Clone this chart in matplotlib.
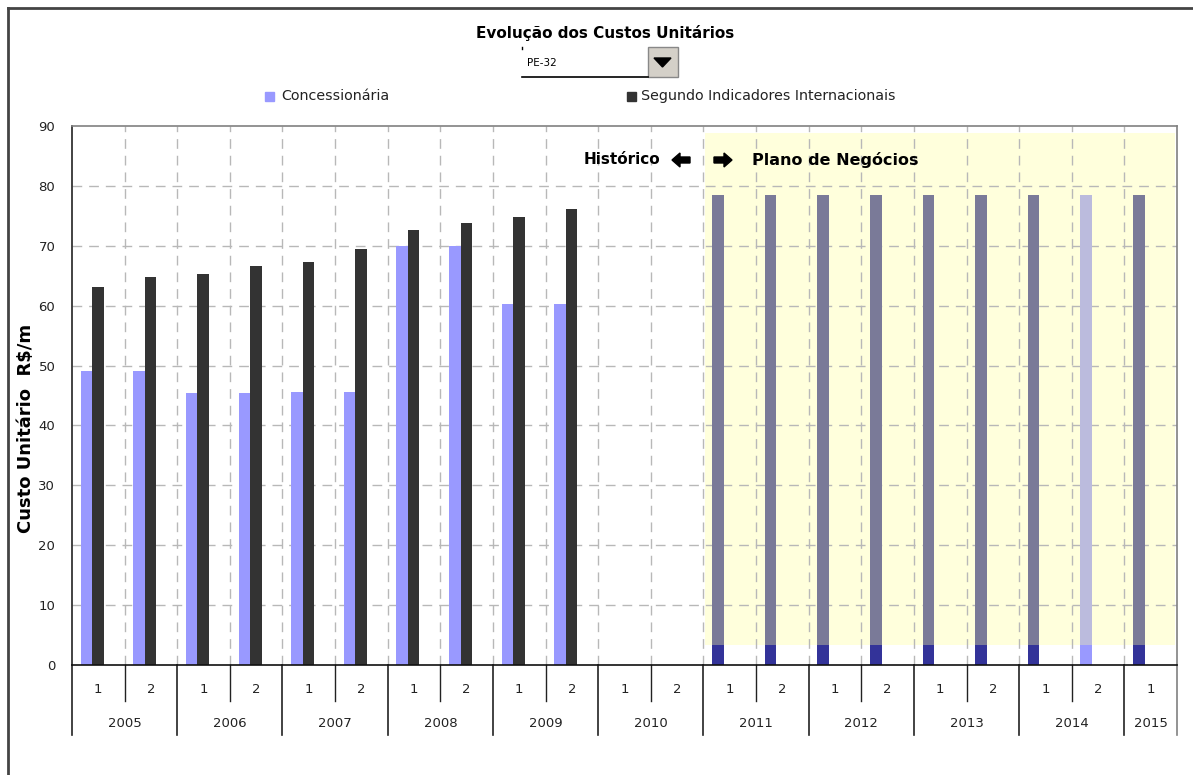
import matplotlib.pyplot as plt
import numpy as np
from matplotlib.patches import Rectangle, Polygon
from matplotlib.lines import Line2D
from matplotlib.transforms import blended_transform_factory

plt.rcParams['font.family'] = ['DejaVu Sans']

W, H = 1193, 775

# semestres 2005-1 .. 2015-1
anos = [2005, 2006, 2007, 2008, 2009, 2010, 2011, 2012, 2013, 2014, 2015]
semestres = [1, 2] * 10 + [1]

concessionaria = [49.1, 49.1, 45.4, 45.4, 45.6, 45.6, 69.9, 69.9, 60.2, 60.2,
                  np.nan, np.nan] + [np.nan] * 9
internacional = [63.1, 64.8, 65.3, 66.6, 67.3, 69.4, 72.6, 73.8, 74.8, 76.1,
                 np.nan, np.nan] + [np.nan] * 9
plano = [np.nan] * 12 + [78.5] * 9

# faixa do plano de negocios
faixa_x = (11.53, 20.46)
faixa_y = (3.3, 88.8)

cor_conc = '#9999FF'
cor_intl = '#333333'


def fx(px):
    return px / W


def fy(py):
    return 1 - py / H


def seta(x0, x1, yc, para_esquerda):
    # seta grossa em pixels da figura
    hl, hw, sw = 8, 7, 3
    if para_esquerda:
        pts = [(x0, yc), (x0 + hl, yc - hw), (x0 + hl, yc - sw), (x1, yc - sw),
               (x1, yc + sw), (x0 + hl, yc + sw), (x0 + hl, yc + hw)]
    else:
        pts = [(x1, yc), (x1 - hl, yc - hw), (x1 - hl, yc - sw), (x0, yc - sw),
               (x0, yc + sw), (x1 - hl, yc + sw), (x1 - hl, yc + hw)]
    fig.patches.append(Polygon([(fx(a), fy(b)) for a, b in pts], closed=True,
                               transform=fig.transFigure, color='black', zorder=5))


fig = plt.figure(figsize=(W / 100, H / 100), dpi=100)
ax = fig.add_axes([fx(72), 110 / H, 1105 / W, 539 / H])

n = len(semestres)
x = np.arange(n)
w = 0.22

ax.add_patch(Rectangle((faixa_x[0], faixa_y[0]), faixa_x[1] - faixa_x[0],
                       faixa_y[1] - faixa_y[0], facecolor='#FFFFDC',
                       edgecolor='none', zorder=0.5))

ax.bar(x - 0.224, concessionaria, w, color=cor_conc, zorder=2)
ax.bar(x - 0.006, internacional, w, color=cor_intl, zorder=2)

# barras projetadas (parte dentro da faixa fica acinzentada)
plano = np.array(plano)
cores_topo = ['#7A7A98'] * n
cores_base = ['#333399'] * n
cores_topo[19] = '#BBBBDD'
cores_base[19] = '#9999FF'
base = np.where(np.isnan(plano), np.nan, faixa_y[0])
ax.bar(x - 0.224, base, w, color=cores_base, zorder=2)
ax.bar(x - 0.224, plano - faixa_y[0], w, bottom=faixa_y[0], color=cores_topo, zorder=2)

ax.set_xlim(-0.5, n - 0.5)
ax.set_ylim(0, 90)
ax.set_yticks(np.arange(0, 91, 10))
ax.tick_params(axis='y', length=0, labelsize=9.5, pad=12, colors='#222222')
ax.set_xticks([])

for yv in range(10, 90, 10):
    ax.axhline(yv, color='#B8B8B8', lw=1, ls=(0, (7, 5)), zorder=1)
for i in range(n - 1):
    ax.axvline(i + 0.5, color='#B8B8B8', lw=1, ls=(0, (7, 5)), zorder=1)

for side in ['top', 'right']:
    ax.spines[side].set_color('#808080')
    ax.spines[side].set_linewidth(1.2)
ax.spines['left'].set_color('#222222')
ax.spines['bottom'].set_color('#111111')
ax.spines['left'].set_linewidth(1.2)
ax.spines['bottom'].set_linewidth(1.2)

fig.text(fx(26), fy(428), 'Custo Unitário  R$/m', fontsize=13, fontweight='bold',
         rotation=90, ha='center', va='center')

# eixo x em dois niveis
tr = blended_transform_factory(ax.transData, ax.transAxes)
for i, s in enumerate(semestres):
    ax.text(i, -0.046, str(s), transform=tr, ha='center', va='center', fontsize=9.5, color='#222222')
for i in range(n - 1):
    if semestres[i] == 1:
        ax.add_line(Line2D([i + 0.5, i + 0.5], [0, -0.067], transform=tr, color='#222222',
                           lw=1, clip_on=False))
limites = [-0.5]
for ano in anos:
    idx = [i for i in range(n) if 2005 + (i // 2) == ano]
    ax.text(np.mean(idx), -0.109, str(ano), transform=tr, ha='center', va='center',
            fontsize=9.5, color='#222222')
    limites.append(idx[-1] + 0.5)
for lim in limites:
    cor = '#808080' if lim == limites[-1] else '#222222'
    ax.add_line(Line2D([lim, lim], [0, -0.13], transform=tr, color=cor, lw=1.2, clip_on=False))

# textos historico / plano
fig.text(fx(660), fy(160), 'Histórico', fontsize=11, fontweight='bold', ha='right', va='center')
seta(672, 690, 160, True)
seta(714, 732, 160, False)
fig.text(fx(752), fy(160), 'Plano de Negócios', fontsize=11.5, fontweight='bold', ha='left',
         va='center')

# titulo e legenda
fig.text(fx(605), fy(33), 'Evolução dos Custos Unitários', fontsize=11,
         fontweight='bold', ha='center', va='center')
fig.patches.append(Rectangle((fx(265), fy(101)), 9 / W, 9 / H,
                             transform=fig.transFigure, color=cor_conc))
fig.text(fx(281), fy(96), 'Concessionária', fontsize=10.3, va='center', color='#222222')
fig.patches.append(Rectangle((fx(627), fy(101)), 9 / W, 9 / H,
                             transform=fig.transFigure, color=cor_intl))
fig.text(fx(641), fy(96), 'Segundo Indicadores Internacionais', fontsize=10.3,
         va='center', color='#222222')

# caixa de selecao
fig.lines.append(Line2D([fx(522), fx(648)], [fy(77)] * 2,
                        transform=fig.transFigure, color='black', lw=1.2))
fig.lines.append(Line2D([fx(522)] * 2, [fy(49), fy(47)],
                        transform=fig.transFigure, color='black', lw=1))
fig.text(fx(527), fy(63), 'PE-32', fontsize=7.5, va='center')
fig.patches.append(Rectangle((fx(648), fy(77)), 30 / W, 30 / H,
                             transform=fig.transFigure, facecolor='#D4D0C8',
                             edgecolor='#888888', lw=1))
fig.patches.append(Polygon([[fx(654), fy(58)], [fx(671), fy(58)], [fx(662.5), fy(67)]],
                           closed=True, transform=fig.transFigure, color='black'))

# moldura
fig.lines.append(Line2D([fx(8), fx(8)], [0, fy(8)], transform=fig.transFigure,
                        color='#444444', lw=2))
fig.lines.append(Line2D([fx(8), 1], [fy(8), fy(8)], transform=fig.transFigure,
                        color='#444444', lw=2))

fig.savefig('out.png', dpi=100)
